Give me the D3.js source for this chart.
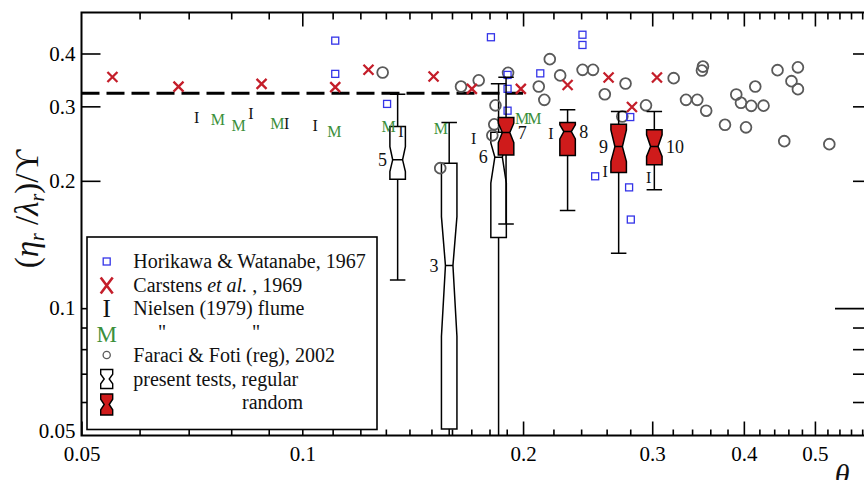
<!DOCTYPE html>
<html>
<head>
<meta charset="utf-8">
<script src="https://cdn.jsdelivr.net/npm/d3@7"></script>
<style>
  html, body { margin: 0; padding: 0; background: #fff; overflow: hidden; }
</style>
</head>
<body>
<svg id="chart" width="864" height="480"></svg>
<script>
// ---- Ripple steepness (eta_r/lambda_r)/Upsilon against Shields parameter theta ----

// Horikawa & Watanabe, 1967
const horikawaTheta = [0.1109, 0.1109, 0.1305, 0.1808, 0.1905, 0.1905, 0.1905, 0.2111, 0.241, 0.241, 0.2508, 0.279, 0.280, 0.2805];
const horikawaRatio = [0.429, 0.358, 0.304, 0.437, 0.356, 0.330, 0.293, 0.359, 0.443, 0.419, 0.205, 0.193, 0.283, 0.162];

// Carstens et al., 1969
const carstensTheta = [0.0551, 0.0678, 0.0880, 0.1109, 0.1231, 0.151, 0.1703, 0.1986, 0.230, 0.2616, 0.2815, 0.3045];
const carstensRatio = [0.352, 0.334, 0.339, 0.333, 0.366, 0.353, 0.330, 0.330, 0.337, 0.351, 0.299, 0.351];

// Nielsen (1979) flume, "I" series
const nielsenITheta = [0.0718, 0.0851, 0.0952, 0.1041, 0.1363, 0.1713, 0.2183, 0.2589, 0.2966];
const nielsenIRatio = [0.283, 0.289, 0.274, 0.270, 0.2615, 0.252, 0.259, 0.210, 0.204];

// Nielsen (1979) flume, "M" series
const nielsenMTheta = [0.0767, 0.0819, 0.0925, 0.1106, 0.1311, 0.1545, 0.1994, 0.2072];
const nielsenMRatio = [0.279, 0.271, 0.274, 0.262, 0.269, 0.2665, 0.281, 0.281];

// Faraci & Foti (regular waves), 2002
const faraciTheta = [0.1287, 0.1542, 0.1646, 0.1740, 0.1834, 0.1827, 0.1816, 0.1908, 0.2175, 0.2101,
                     0.2138, 0.2247, 0.2411, 0.2491, 0.2585, 0.2759, 0.2731, 0.2942, 0.3209, 0.3336,
                     0.3456, 0.3554, 0.3507, 0.3518, 0.3770, 0.3906, 0.3964, 0.4146, 0.4094, 0.4255,
                     0.4027, 0.4446, 0.4740, 0.4645, 0.4740, 0.4541, 0.5231];
const faraciRatio = [0.3606, 0.2143, 0.3341, 0.3456, 0.3016, 0.2720, 0.2562, 0.3600, 0.3879, 0.3341,
                     0.3108, 0.3550, 0.3659, 0.3659, 0.3203, 0.3396, 0.2838, 0.3016, 0.3498, 0.3108,
                     0.3108, 0.2930, 0.3645, 0.3725, 0.2713, 0.3199, 0.3058, 0.3341, 0.3008, 0.3011,
                     0.2676, 0.3653, 0.3709, 0.3441, 0.3294, 0.2482, 0.2442];

// Present tests: notched box statistics per test
const testNames      = ["5", "3", "6", "7", "8", "9", "10"];
const testWave       = ["regular", "regular", "regular", "random", "random", "random", "random"];
const testTheta      = [0.1349, 0.1586, 0.1852, 0.1896, 0.2300, 0.2700, 0.3020];
const testWhiskerHi  = [0.3206, 0.2747, 0.3391, 0.3517, 0.2943, 0.2916, 0.2916];
const testQ3         = [0.2688, 0.2202, 0.2607, 0.2822, 0.2747, 0.2723, 0.2640];
const testNotchHi    = [0.2410, 0.1646, 0.2459, 0.2737, 0.2712, 0.2640, 0.2569];
const testMedian     = [0.2242, 0.1261, 0.2275, 0.2601, 0.2615, 0.2410, 0.2410];
const testNotchLo    = [0.2104, 0.0857, 0.1975, 0.2463, 0.2513, 0.2221, 0.2283];
const testQ1         = [0.2018, 0.0518, 0.1470, 0.2303, 0.2295, 0.2092, 0.2182];
const testWhiskerLo  = [0.1166, 0.0500, 0.0500, 0.1582, 0.1701, 0.1349, 0.1904];
const testLabelSide  = ["left", "left", "left", "right", "right", "left", "right"];

// Reference level
const refTheta = [0.05, 0.2];
const refRatio = 0.322;

// Axis ticks
const xMajorTicks = [0.05, 0.1, 0.2, 0.3, 0.4, 0.5];
const xMinorTicks = [0.06, 0.07, 0.08, 0.09, 0.11, 0.12, 0.13, 0.14, 0.15, 0.16, 0.17, 0.18, 0.19,
                     0.22, 0.24, 0.26, 0.28, 0.32, 0.34, 0.36, 0.38, 0.42, 0.44, 0.46, 0.48,
                     0.52, 0.54, 0.56, 0.58];
const yMajorTicks = [0.05, 0.1, 0.2, 0.3, 0.4];
const yMinorTicks = [0.06, 0.07, 0.08, 0.09];

// Legend entries
const legendLabels = ["Horikawa & Watanabe, 1967", "Carstens et al. , 1969", "Nielsen (1979) flume",
                      "\"                 \"", "Faraci & Foti (reg), 2002", "present tests, regular", "random"];

// ---------------------------------------------------------------------------
const FONT = "'Liberation Serif','Times New Roman',Times,serif";
const RED = "#cf1b1b", XRED = "#c41e2a", BLUE = "#3434e8", GREEN = "#3b8f3b", GREY = "#5a5a5a";

const svg = d3.select("#chart");
const x = d3.scaleLog().domain([0.05, 0.6]).range([81.5, 873]);
const y = d3.scaleLog().domain([0.05, 0.5]).range([435.5, 12.5]);
const [x0, x1] = x.range();
const [yB, yT] = y.range();

const fmt = d => String(d);

function styleAxis(g) {
  g.select(".domain").remove();
  g.attr("font-family", FONT).attr("font-size", 21);
  g.selectAll(".tick line").attr("stroke", "#000").attr("stroke-width", 1.6);
  g.selectAll(".tick text").attr("fill", "#000");
}

// clip for data marks
svg.append("defs").append("clipPath").attr("id", "plotClip")
  .append("rect").attr("x", x0).attr("y", yT).attr("width", x1 - x0).attr("height", yB - yT);

// ---- axes ----
svg.append("g").attr("transform", `translate(0,${yB})`)
  .call(d3.axisBottom(x).tickValues(xMajorTicks).tickFormat(fmt).tickSize(-14).tickSizeOuter(0).tickPadding(11))
  .call(styleAxis);
svg.append("g").attr("transform", `translate(0,${yB})`)
  .call(d3.axisBottom(x).tickValues(xMinorTicks).tickFormat("").tickSize(-6).tickSizeOuter(0))
  .call(styleAxis);
svg.append("g").attr("transform", `translate(0,${yT})`)
  .call(d3.axisTop(x).tickValues(xMajorTicks.slice(1)).tickFormat("").tickSize(-14).tickSizeOuter(0))
  .call(styleAxis);
svg.append("g").attr("transform", `translate(0,${yT})`)
  .call(d3.axisTop(x).tickValues(xMinorTicks).tickFormat("").tickSize(-7).tickSizeOuter(0))
  .call(styleAxis);

const leftMajor = svg.append("g").attr("transform", `translate(${x0},0)`)
  .call(d3.axisLeft(y).tickValues(yMajorTicks).tickFormat(fmt).tickSize(-19).tickSizeOuter(0).tickPadding(6))
  .call(styleAxis);
leftMajor.selectAll(".tick").filter(d => d === 0.05).select("line").remove();
leftMajor.selectAll(".tick").filter(d => d === 0.05).select("text").attr("transform", "translate(0,-5)");
svg.append("g").attr("transform", `translate(${x0},0)`)
  .call(d3.axisLeft(y).tickValues(yMinorTicks).tickFormat("").tickSize(-7).tickSizeOuter(0))
  .call(styleAxis);
svg.append("g").attr("transform", `translate(${x1},0)`)
  .call(d3.axisRight(y).tickValues([0.2, 0.3, 0.4].concat(yMinorTicks)).tickFormat("").tickSize(-20).tickSizeOuter(0))
  .call(styleAxis);
svg.append("g").attr("transform", `translate(${x1},0)`)
  .call(d3.axisRight(y).tickValues([0.1]).tickFormat("").tickSize(-38).tickSizeOuter(0))
  .call(styleAxis);

// frame
svg.append("rect").attr("x", x0).attr("y", yT).attr("width", x1 - x0).attr("height", yB - yT)
  .attr("fill", "none").attr("stroke", "#000").attr("stroke-width", 2);

// ---- data layer ----
const plot = svg.append("g").attr("clip-path", "url(#plotClip)");

// reference dashed level
plot.append("line")
  .attr("x1", x(refTheta[0])).attr("x2", x(refTheta[1]))
  .attr("y1", y(refRatio)).attr("y2", y(refRatio))
  .attr("stroke", "#000").attr("stroke-width", 3).attr("stroke-dasharray", "18,7");

const BOX_W = 15.5;

function notchPath(i, w, inset) {
  const cx = x(testTheta[i]);
  const l = cx - w / 2, r = cx + w / 2;
  const pts = [
    [l, y(testQ3[i])], [r, y(testQ3[i])], [r, y(testNotchHi[i])], [r - inset, y(testMedian[i])],
    [r, y(testNotchLo[i])], [r, y(testQ1[i])], [l, y(testQ1[i])], [l, y(testNotchLo[i])],
    [l + inset, y(testMedian[i])], [l, y(testNotchHi[i])]
  ];
  return "M" + pts.map(p => p.join(",")).join("L") + "Z";
}

function drawTest(g, i) {
  const cx = x(testTheta[i]);
  const inset = testNames[i] === "5" ? 2.8 : 4;
  const line = (x1_, y1_, x2_, y2_) => g.append("line")
    .attr("x1", x1_).attr("y1", y1_).attr("x2", x2_).attr("y2", y2_)
    .attr("stroke", "#000").attr("stroke-width", 1.5);
  // upper whisker and cap
  line(cx, y(testQ3[i]), cx, y(testWhiskerHi[i]));
  line(cx - BOX_W / 2, y(testWhiskerHi[i]), cx + BOX_W / 2, y(testWhiskerHi[i]));
  // lower whisker and cap
  line(cx, y(testQ1[i]), cx, y(testWhiskerLo[i]));
  if (testWhiskerLo[i] > y.domain()[0]) {
    line(cx - BOX_W / 2, y(testWhiskerLo[i]), cx + BOX_W / 2, y(testWhiskerLo[i]));
  }
  // notched box
  g.append("path").attr("d", notchPath(i, BOX_W, inset))
    .attr("fill", testWave[i] === "random" ? RED : "#fff")
    .attr("stroke", "#000").attr("stroke-width", 1.5).attr("stroke-linejoin", "miter");
  line(cx - BOX_W / 2 + inset, y(testMedian[i]), cx + BOX_W / 2 - inset, y(testMedian[i]));
}

// regular-wave boxes (underneath the scatter)
testNames.forEach((n, i) => { if (testWave[i] === "regular") drawTest(plot.append("g"), i); });

// Faraci & Foti circles
plot.append("g").selectAll("circle").data(d3.range(faraciTheta.length)).join("circle")
  .attr("cx", i => x(faraciTheta[i])).attr("cy", i => y(faraciRatio[i])).attr("r", 5.4)
  .attr("fill", "none").attr("stroke", GREY).attr("stroke-width", 1.8);

// Horikawa & Watanabe squares
plot.append("g").selectAll("rect").data(d3.range(horikawaTheta.length)).join("rect")
  .attr("x", i => x(horikawaTheta[i]) - 3.5).attr("y", i => y(horikawaRatio[i]) - 3.5)
  .attr("width", 7).attr("height", 7)
  .attr("fill", "none").attr("stroke", BLUE).attr("stroke-width", 1.3);

// Carstens crosses
const crossPath = (w, h) => `M${-w},${-h}L${w},${h}M${w},${-h}L${-w},${h}`;
plot.append("g").selectAll("path").data(d3.range(carstensTheta.length)).join("path")
  .attr("transform", i => `translate(${x(carstensTheta[i])},${y(carstensRatio[i])})`)
  .attr("d", crossPath(5, 5)).attr("fill", "none").attr("stroke", XRED).attr("stroke-width", 2.3);

// Nielsen glyph markers
plot.append("g").selectAll("text").data(d3.range(nielsenITheta.length)).join("text")
  .attr("x", i => x(nielsenITheta[i])).attr("y", i => y(nielsenIRatio[i])).attr("dy", "0.35em")
  .attr("text-anchor", "middle").attr("font-family", FONT).attr("font-size", 16).attr("fill", "#111")
  .text("I");
plot.append("g").selectAll("text").data(d3.range(nielsenMTheta.length)).join("text")
  .attr("x", i => x(nielsenMTheta[i])).attr("y", i => y(nielsenMRatio[i])).attr("dy", "0.35em")
  .attr("text-anchor", "middle").attr("font-family", FONT).attr("font-size", 16).attr("fill", GREEN)
  .text("M");

// random-wave boxes on top
testNames.forEach((n, i) => { if (testWave[i] === "random") drawTest(plot.append("g"), i); });

// test numbers
plot.append("g").selectAll("text").data(d3.range(testNames.length)).join("text")
  .attr("x", i => x(testTheta[i]) + (testLabelSide[i] === "left" ? -(BOX_W / 2 + 3) : (BOX_W / 2 + 4)))
  .attr("y", i => y(testMedian[i])).attr("dy", "0.35em")
  .attr("text-anchor", i => testLabelSide[i] === "left" ? "end" : "start")
  .attr("font-family", FONT).attr("font-size", 18).attr("fill", "#111")
  .text(i => testNames[i]);

// ---- legend ----
const lg = svg.append("g");
lg.append("rect").attr("x", 87).attr("y", 237).attr("width", 290).attr("height", 192.5)
  .attr("fill", "#fff").attr("stroke", "#000").attr("stroke-width", 1.6);
const symX = 106.7, txtX = 133.3, row0 = 268, rowH = 23.5;
const rowY = k => row0 + k * rowH;

lg.append("rect").attr("x", symX - 3.5).attr("y", rowY(0) - 10).attr("width", 7).attr("height", 7)
  .attr("fill", "none").attr("stroke", BLUE).attr("stroke-width", 1.3);
lg.append("path").attr("transform", `translate(${symX},${rowY(1) - 6})`).attr("d", crossPath(6, 8))
  .attr("fill", "none").attr("stroke", XRED).attr("stroke-width", 2.6);
lg.append("text").attr("x", symX).attr("y", rowY(2) + 2).attr("text-anchor", "middle")
  .attr("font-family", FONT).attr("font-size", 25).attr("fill", "#111").text("I");
lg.append("text").attr("x", symX).attr("y", rowY(3) + 3).attr("text-anchor", "middle")
  .attr("font-family", FONT).attr("font-size", 23).attr("fill", GREEN).text("M");
lg.append("circle").attr("cx", symX).attr("cy", rowY(4) - 7).attr("r", 3.6)
  .attr("fill", "none").attr("stroke", GREY).attr("stroke-width", 1.3);

function legendHourglass(cy, h, fill) {
  const w = 12, l = symX - w / 2, r = symX + w / 2, t = cy - h / 2, b = cy + h / 2, ins = 3.5;
  const pts = [[l, t], [r, t], [r, t + h * 0.25], [r - ins, cy], [r, b - h * 0.25], [r, b], [l, b],
               [l, b - h * 0.25], [l + ins, cy], [l, t + h * 0.25]];
  lg.append("path").attr("d", "M" + pts.map(p => p.join(",")).join("L") + "Z")
    .attr("fill", fill).attr("stroke", "#000").attr("stroke-width", 1.4);
}
legendHourglass(rowY(5) - 6.5, 19, "#fff");
legendHourglass(rowY(6) - 4.5, 21, RED);

const lt = lg.append("g").attr("font-family", FONT).attr("font-size", 20).attr("fill", "#111");
lt.append("text").attr("x", txtX).attr("y", rowY(0)).text(legendLabels[0]);
const carst = lt.append("text").attr("x", txtX).attr("y", rowY(1));
carst.append("tspan").text("Carstens ");
carst.append("tspan").attr("font-style", "italic").text("et al.");
carst.append("tspan").text(" , 1969");
lt.append("text").attr("x", txtX).attr("y", rowY(2)).text(legendLabels[2]);
lt.append("text").attr("x", 158).attr("y", rowY(3)).text("\"");
lt.append("text").attr("x", 252).attr("y", rowY(3)).text("\"");
lt.append("text").attr("x", txtX).attr("y", rowY(4)).text(legendLabels[4]);
lt.append("text").attr("x", txtX).attr("y", rowY(5)).text(legendLabels[5]);
lt.append("text").attr("x", 242).attr("y", rowY(6)).text(legendLabels[6]);

// ---- axis titles ----
const yt = svg.append("text").attr("transform", "translate(38,209) rotate(-90)")
  .attr("text-anchor", "middle").attr("font-family", FONT).attr("font-size", 33).attr("fill", "#111");
yt.append("tspan").text("(");
yt.append("tspan").attr("font-style", "italic").text("η");
yt.append("tspan").attr("font-style", "italic").attr("font-size", 20).attr("dy", 6).text("r");
yt.append("tspan").attr("dy", -6).text(" /");
yt.append("tspan").attr("font-style", "italic").text("λ");
yt.append("tspan").attr("font-style", "italic").attr("font-size", 20).attr("dy", 6).text("r");
yt.append("tspan").attr("dy", -6).text(")/ϒ");

svg.append("text").attr("x", 842).attr("y", 485).attr("text-anchor", "middle")
  .attr("font-family", FONT).attr("font-style", "italic").attr("font-size", 30).attr("fill", "#111")
  .text("θ");
</script>
</body>
</html>
